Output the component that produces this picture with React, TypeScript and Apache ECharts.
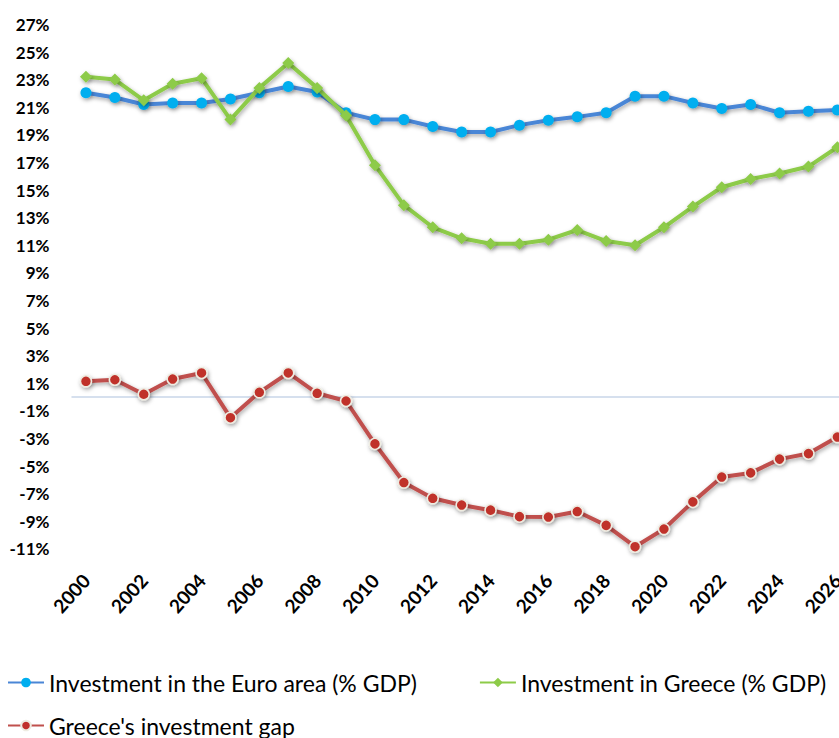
import React, { useEffect, useRef } from "react";
import * as echarts from "echarts";

const years: string[] = [
  "2000", "2001", "2002", "2003", "2004", "2005", "2006", "2007", "2008", "2009",
  "2010", "2011", "2012", "2013", "2014", "2015", "2016", "2017", "2018", "2019",
  "2020", "2021", "2022", "2023", "2024", "2025", "2026",
];

const euroArea: number[] = [
  22.05, 21.7, 21.2, 21.3, 21.3, 21.6, 22.05, 22.5, 22.1, 20.6,
  20.1, 20.1, 19.6, 19.2, 19.2, 19.7, 20.05, 20.3, 20.6, 21.8,
  21.8, 21.3, 20.9, 21.2, 20.6, 20.7, 20.8,
];

const greece: number[] = [
  23.2, 23.0, 21.5, 22.7, 23.1, 20.1, 22.4, 24.2, 22.4, 20.4,
  16.8, 13.9, 12.3, 11.5, 11.1, 11.1, 11.4, 12.1, 11.3, 11.0,
  12.3, 13.8, 15.2, 15.8, 16.2, 16.7, 18.1,
];

const gap: number[] = [
  1.14, 1.25, 0.2, 1.3, 1.74, -1.5, 0.34, 1.74, 0.27, -0.29,
  -3.4, -6.2, -7.34, -7.83, -8.2, -8.67, -8.7, -8.3, -9.3, -10.85,
  -9.57, -7.6, -5.8, -5.5, -4.5, -4.1, -2.9,
];

const seriesNames: string[] = [
  "Investment in the Euro area (% GDP)",
  "Investment in Greece (% GDP)",
  "Greece's investment gap",
];

const FONT = "Lato, 'Open Sans', sans-serif";

export default function App() {
  const ref = useRef<HTMLDivElement>(null);

  useEffect(() => {
    if (!ref.current) return;
    const chart = echarts.init(ref.current, undefined, { renderer: "svg" });
    const lineShadow = {
      shadowColor: "rgba(0,0,0,0.35)",
      shadowBlur: 4,
      shadowOffsetX: 1,
      shadowOffsetY: 2,
    };
    const legendText = { fontFamily: FONT, fontSize: 23, color: "#000" };
    chart.setOption({
      animation: false,
      backgroundColor: "#ffffff",
      textStyle: { fontFamily: FONT },
      grid: { left: 71.5, right: 8.2, top: 24.4, bottom: 189.2, containLabel: false },
      legend: [
        {
          data: [seriesNames[0], seriesNames[1]],
          left: 7,
          top: 671,
          padding: 0,
          orient: "horizontal",
          itemWidth: 36,
          itemHeight: 12,
          itemGap: 62,
          textStyle: legendText,
        },
        {
          data: [seriesNames[2]],
          left: 7,
          top: 714,
          padding: 0,
          orient: "horizontal",
          itemWidth: 36,
          itemHeight: 12,
          textStyle: legendText,
        },
      ],
      xAxis: {
        type: "category",
        data: years,
        boundaryGap: true,
        axisLine: { show: false },
        axisTick: { show: false },
        splitLine: { show: false },
        axisLabel: {
          interval: 1,
          rotate: 48,
          margin: 28,
          fontFamily: FONT,
          fontSize: 19,
          fontWeight: "bold",
          color: "#000",
        },
      },
      yAxis: {
        type: "value",
        min: -11,
        max: 27,
        interval: 2,
        axisLine: { show: false },
        axisTick: { show: false },
        splitLine: { show: false },
        axisLabel: {
          formatter: (v: number) => `${v}%`,
          margin: 22,
          fontFamily: FONT,
          fontSize: 17,
          fontWeight: "bold",
          color: "#000",
        },
      },
      series: [
        {
          name: seriesNames[0],
          type: "line",
          data: euroArea,
          symbol: "circle",
          symbolSize: 11,
          lineStyle: { color: "#4A86D6", width: 4, ...lineShadow },
          itemStyle: { color: "#00AEEF", borderWidth: 0, ...lineShadow },
          markLine: {
            silent: true,
            symbol: "none",
            label: { show: false },
            lineStyle: { color: "#D6E0EE", width: 2, type: "solid" },
            data: [{ yAxis: 0 }],
            z: 1,
          },
          z: 2,
        },
        {
          name: seriesNames[1],
          type: "line",
          data: greece,
          symbol: "diamond",
          symbolSize: 12,
          lineStyle: { color: "#8DCB48", width: 4, ...lineShadow },
          itemStyle: { color: "#8DCB48", borderWidth: 0, ...lineShadow },
          z: 3,
        },
        {
          name: seriesNames[2],
          type: "line",
          data: gap,
          symbol: "circle",
          symbolSize: 11,
          lineStyle: { color: "#C0504D", width: 4, ...lineShadow },
          itemStyle: {
            color: "#C0302B",
            borderColor: "#EEECE1",
            borderWidth: 1.5,
            ...lineShadow,
          },
          z: 4,
        },
      ],
    });
    return () => chart.dispose();
  }, []);

  return (
    <div
      style={{
        position: "fixed",
        left: 0,
        top: 0,
        width: 839,
        height: 738,
        overflow: "hidden",
        background: "#fff",
      }}
    >
      <div ref={ref} style={{ width: 860, height: 738 }} />
    </div>
  );
}
